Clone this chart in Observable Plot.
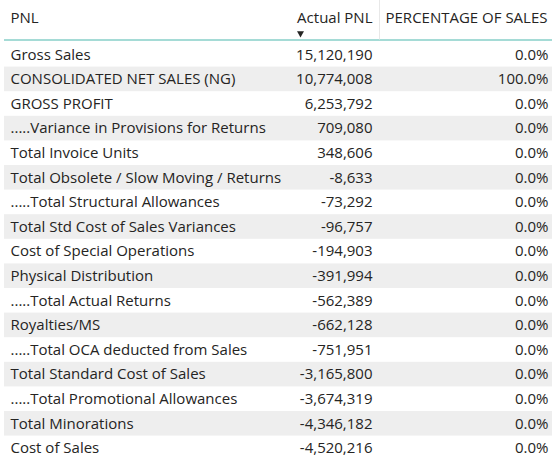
<!DOCTYPE html>
<html>
<head>
<meta charset="utf-8">
<script src="https://cdn.jsdelivr.net/npm/d3@7"></script>
<script src="https://cdn.jsdelivr.net/npm/@observablehq/plot@0.6"></script>
<style>
  html, body { margin: 0; padding: 0; background: #fff; }
  svg { display: block; }
</style>
</head>
<body>
<div id="chart"></div>
<script>
const labels = [
  "Gross Sales",
  "CONSOLIDATED NET SALES (NG)",
  "GROSS PROFIT",
  ".....Variance in Provisions for Returns",
  "Total Invoice Units",
  "Total Obsolete / Slow Moving / Returns",
  ".....Total Structural Allowances",
  "Total Std Cost of Sales Variances",
  "Cost of Special Operations",
  "Physical Distribution",
  ".....Total Actual Returns",
  "Royalties/MS",
  ".....Total OCA deducted from Sales",
  "Total Standard Cost of Sales",
  ".....Total Promotional Allowances",
  "Total Minorations",
  "Cost of Sales"
];
const actualPNL = [15120190, 10774008, 6253792, 709080, 348606, -8633, -73292, -96757, -194903, -391994, -562389, -662128, -751951, -3165800, -3674319, -4346182, -4520216];
const pctOfSales = [0, 1, 0, 0, 0, 0, 0, 0, 0, 0, 0, 0, 0, 0, 0, 0, 0];
const headers = ["PNL", "Actual PNL", "PERCENTAGE OF SALES"];

const rows = labels.map((label, i) => ({i, label, value: actualPNL[i], pct: pctOfSales[i]}));
const fmtNum = d3.format(",");
const fmtPct = d3.format(".1%");

const FONT = "'Open Sans', 'Noto Sans', sans-serif";
const FS = 15;
const TXT = "#252423";

const chart = Plot.plot({
  width: 556,
  height: 465,
  marginTop: 0, marginBottom: 0, marginLeft: 0, marginRight: 0,
  x: {domain: [0, 556], range: [0, 556], axis: null},
  y: {domain: [-2.207, 16.695], range: [0, 465], axis: null},
  style: {fontFamily: FONT, fontSize: FS + "px", background: "#fff"},
  marks: [
    // striped rows
    Plot.rect(rows.filter(d => d.i % 2 === 1), {
      x1: 4, x2: 552, y1: d => d.i - 0.5, y2: d => d.i + 0.5, fill: "#eeeeee"
    }),
    // header underline
    Plot.ruleY([-0.5], {x1: 4, x2: 552, stroke: "#a5dbd6", strokeWidth: 2, dy: -2.5}),
    // header column separator
    Plot.ruleX([379], {y1: -2.207, y2: -0.6, stroke: "#e8e8e8", strokeWidth: 1}),
    // header texts
    Plot.text([headers[0]], {x: 10, y: -1.475, text: d => d, textAnchor: "start", fill: TXT, fontSize: FS}),
    Plot.text([headers[1]], {x: 372, y: -1.475, text: d => d, textAnchor: "end", fill: TXT, fontSize: FS}),
    Plot.text([headers[2]], {x: 547, y: -1.475, text: d => d, textAnchor: "end", fill: TXT, fontSize: FS}),
    // sort indicator
    Plot.dot([headers[1]], {x: 300, y: -0.87, symbol: "triangle", r: 2.6, fill: "#252423", stroke: null, rotate: 180}),
    // row labels
    Plot.text(rows, {x: 10, y: "i", text: "label", textAnchor: "start", fill: TXT, fontSize: FS}),
    Plot.text(rows, {x: 372, y: "i", text: d => fmtNum(d.value).replace("−", "-"), textAnchor: "end", fill: TXT, fontSize: FS}),
    Plot.text(rows, {x: 548, y: "i", text: d => fmtPct(d.pct), textAnchor: "end", fill: TXT, fontSize: FS})
  ]
});
document.getElementById("chart").appendChild(chart);
</script>
</body>
</html>
